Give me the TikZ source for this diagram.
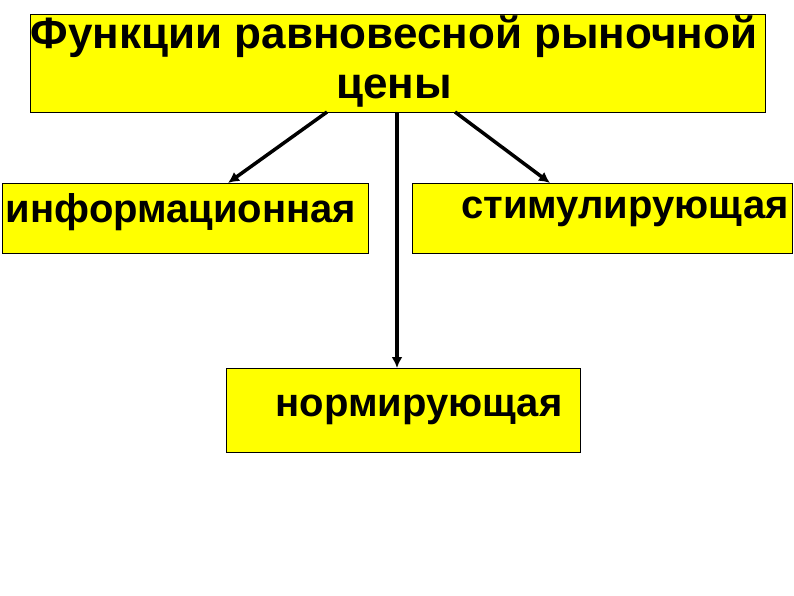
\documentclass[tikz,border=0pt]{standalone}
\usepackage{fontspec}
\usetikzlibrary{arrows.meta}
\setmainfont{Liberation Sans}
\definecolor{ylw}{RGB}{255,255,0}
\begin{document}
\begin{tikzpicture}[x=1pt,y=-1pt,
  box/.style={draw=black,fill=ylw,line width=0.8pt},
  lbl/.style={font=\bfseries\fontsize{40}{44}\selectfont,inner sep=0pt},
  arr/.style={line width=3.5pt,-{Latex[length=11pt,width=11pt]}}]
\useasboundingbox (0,0) rectangle (794,595);
\draw[box] (30,14) rectangle (765,112);
\draw[box] (2,183) rectangle (368,253);
\draw[box] (412,183) rectangle (792,253);
\draw[box] (226,368) rectangle (580,452);
\node[lbl,align=center,font=\bfseries\fontsize{44}{50}\selectfont] (top) at (394,62) {Функции равновесной рыночной\\цены};
\node[lbl] (inf) at (181,212) {информационная};
\node[lbl] (stim) at (625,212) {стимулирующая};
\node[lbl] (norm) at (419,410) {нормирующая};
\coordinate (a1) at (327,112); \coordinate (b1) at (228,183);
\coordinate (a2) at (397,112); \coordinate (b2) at (397,368);
\coordinate (a3) at (455,112); \coordinate (b3) at (550,183);
\draw[arr] (a1) -- (b1);
\draw[arr] (a2) -- (b2);
\draw[arr] (a3) -- (b3);
\end{tikzpicture}
\end{document}
